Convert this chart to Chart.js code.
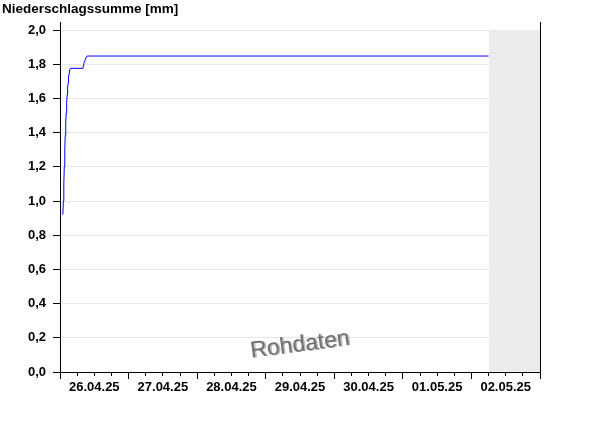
<!DOCTYPE html>
<html>
<head>
<meta charset="utf-8">
<script src="https://cdn.jsdelivr.net/npm/chart.js@4/dist/chart.umd.min.js"></script>
<style>
html,body{margin:0;padding:0;background:#fff;}
canvas{display:block;}
</style>
</head>
<body>
<canvas id="c" width="600" height="426"></canvas>
<script>
// Hours since 26.04.25 00:00
const hours = [1.0, 1.17, 1.33, 1.5, 1.67, 1.83, 2.0, 2.17, 2.33, 2.5, 2.67, 2.83, 3.0, 3.17, 3.33, 3.5, 3.67, 8.0, 8.17, 8.33, 8.5, 8.67, 8.83, 9.0, 9.17, 9.33, 9.5, 9.67, 150.0];
const precipSum = [0.92, 1.00, 1.10, 1.20, 1.30, 1.385, 1.45, 1.515, 1.57, 1.62, 1.66, 1.69, 1.72, 1.747, 1.76, 1.772, 1.776, 1.776, 1.79, 1.805, 1.812, 1.82, 1.828, 1.835, 1.84, 1.845, 1.848, 1.848, 1.848];
const dayLabels = ['26.04.25', '27.04.25', '28.04.25', '29.04.25', '30.04.25', '01.05.25', '02.05.25'];
const yTickValues = [0, 0.2, 0.4, 0.6, 0.8, 1.0, 1.2, 1.4, 1.6, 1.8, 2.0];
const noDataFrom = 150;   // 02.05.25 06:00
const rangeEnd = 168;     // 03.05.25 00:00
const titleText = 'Niederschlagssumme [mm]';
const watermarkText = 'Rohdaten';

const FONT = '"Liberation Sans", Arial, sans-serif';

const grayPlugin = {
  id: 'noData',
  beforeDatasetsDraw(chart) {
    const x = chart.scales.x, y = chart.scales.y;
    const ctx = chart.ctx;
    const x0 = x.getPixelForValue(noDataFrom), x1 = x.getPixelForValue(rangeEnd);
    const y0 = y.getPixelForValue(yTickValues[yTickValues.length - 1]), y1 = y.getPixelForValue(0);
    ctx.save();
    ctx.fillStyle = '#ececec';
    ctx.fillRect(Math.round(x0), Math.round(y0), Math.round(x1) - Math.round(x0), Math.round(y1) - Math.round(y0));
    ctx.restore();
  },
  afterDraw(chart) {
    const a = chart.chartArea, ctx = chart.ctx;
    ctx.save();
    ctx.translate((a.left + a.right) / 2, a.bottom - 27);
    ctx.rotate(-0.13);
    ctx.font = '23px ' + FONT;
    ctx.textAlign = 'center';
    ctx.textBaseline = 'middle';
    ctx.fillStyle = '#b8b8b8';
    ctx.fillText(watermarkText, 1.5, 0.5);
    ctx.fillStyle = '#707070';
    ctx.fillText(watermarkText, 0, 0);
    ctx.restore();
  }
};

new Chart(document.getElementById('c'), {
  type: 'line',
  data: {
    datasets: [{
      data: hours.map((h, i) => ({x: h, y: precipSum[i]})),
      borderColor: '#0000ff',
      borderWidth: 1,
      pointRadius: 0,
      tension: 0,
      fill: false
    }]
  },
  options: {
    responsive: false,
    animation: false,
    devicePixelRatio: 1,
    layout: {padding: {left: 2, right: 60, top: 0, bottom: 0}},
    plugins: {
      legend: {display: false},
      tooltip: {enabled: false},
      title: {
        display: true,
        text: titleText,
        align: 'start',
        color: '#000',
        font: {family: FONT, size: 13.5, weight: 'bold', lineHeight: 1.2},
        padding: {top: 1, bottom: 4.8}
      }
    },
    scales: {
      x: {
        type: 'linear',
        min: 0,
        max: rangeEnd,
        afterFit(scale) { scale.height = 54; },
        border: {display: true, color: '#000', width: 1},
        grid: {
          drawOnChartArea: false,
          drawTicks: true,
          tickLength: 7,
          tickColor: '#000',
          tickBorderDash: (ctx) => (ctx.tick && ctx.tick.value % 24 === 0) ? [] : [3, 20]
        },
        ticks: {
          stepSize: 6,
          autoSkip: false,
          maxRotation: 0,
          padding: 1,
          color: '#000',
          font: {family: FONT, size: 13, weight: 'bold'},
          callback: (v) => (v % 24 === 12) ? (dayLabels[Math.floor(v / 24)] || '') : ''
        }
      },
      y: {
        min: 0,
        max: 2.047,
        afterFit(scale) { scale.width = 58; },
        afterBuildTicks(scale) {
          scale.ticks = yTickValues.map(v => ({value: v}));
        },
        border: {display: true, color: '#000', width: 1},
        grid: {
          color: (ctx) => '#e8e8e8',
          tickColor: '#000',
          tickLength: 7,
          drawTicks: true
        },
        ticks: {
          padding: 7,
          color: '#000',
          font: {family: FONT, size: 13, weight: 'bold'},
          callback: (v) => v.toFixed(1).replace('.', ',')
        }
      },
      y2: {
        position: 'right',
        min: 0,
        max: 2.047,
        border: {display: true, color: '#000', width: 1},
        grid: {drawOnChartArea: false, drawTicks: false},
        ticks: {display: false}
      }
    }
  },
  plugins: [grayPlugin]
});
</script>
</body>
</html>
